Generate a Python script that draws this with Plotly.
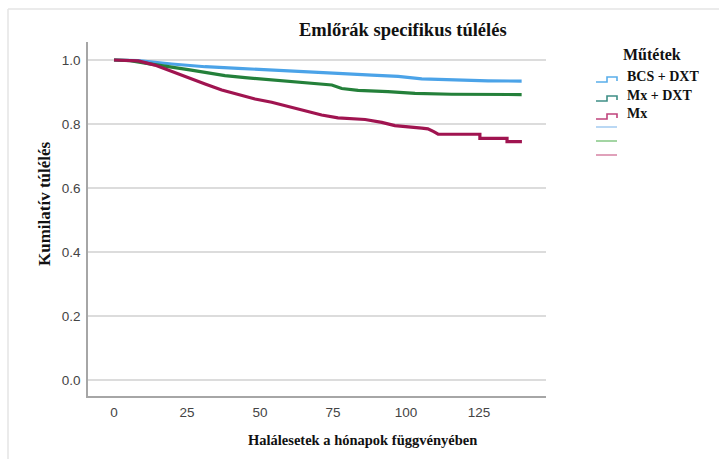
import plotly.graph_objects as go

# Kaplan-Meier style cumulative survival by surgery type (months, survival)
bcs_dxt_months = [0, 8.3, 19.8, 31.2, 42.5, 54.0, 65.4, 76.7, 88.3, 97.3, 105.4, 116.8, 128.1, 139.6]
bcs_dxt_surv = [1.0, 0.998, 0.9875, 0.979, 0.974, 0.968, 0.9635, 0.958, 0.953, 0.949, 0.941, 0.9375, 0.935, 0.934]

mx_dxt_months = [0, 5.5, 11.7, 19.8, 25.4, 31.2, 38.0, 44.9, 54.0, 65.4, 74.6, 78.0, 83.6, 93.8, 103.1, 115.6, 139.6]
mx_dxt_surv = [1.0, 0.998, 0.9885, 0.979, 0.970, 0.9615, 0.951, 0.945, 0.9375, 0.930, 0.922, 0.911, 0.905, 0.901, 0.896, 0.893, 0.892]

mx_months = [0, 8.3, 14.0, 19.8, 25.4, 31.2, 36.9, 42.5, 48.3, 54.0, 59.7, 65.4, 71.1, 76.7, 86.0, 91.7,
             96.2, 105.4, 107.5, 109.5, 111.0, 125.3, 125.3, 134.6, 134.6, 139.7]
mx_surv = [1.0, 0.997, 0.984, 0.9635, 0.943, 0.925, 0.906, 0.891, 0.878, 0.868, 0.855, 0.841, 0.828, 0.819, 0.814, 0.805,
           0.795, 0.787, 0.785, 0.776, 0.768, 0.768, 0.755, 0.755, 0.745, 0.745]

group_names = ["BCS + DXT", "Mx + DXT", "Mx"]
group_colors = ["#4ba3e8", "#24803a", "#a01450"]
icon_colors = ["#5aaeea", "#3f8f86", "#c0447c"]
censor_colors = ["#a9cff2", "#8ccb8c", "#d98aa9"]

x_ticks = [0, 25, 50, 75, 100, 125]
y_ticks = [0.0, 0.2, 0.4, 0.6, 0.8, 1.0]

W, H = 719, 459
L, R, T, B = 88, 546, 42, 396


def px(x):
    return (x - L) / (R - L)


def py(y):
    return 1 - (y - T) / (B - T)


fig = go.Figure()
for xs, ys, name, col in zip([bcs_dxt_months, mx_dxt_months, mx_months],
                             [bcs_dxt_surv, mx_dxt_surv, mx_surv], group_names, group_colors):
    fig.add_trace(go.Scatter(x=xs, y=ys, mode="lines", name=name,
                             line=dict(color=col, width=3.2), showlegend=False))

serif = "Liberation Serif"
shapes = []
annotations = []

# outer frame (top and left edges)
shapes.append(dict(type="line", xref="paper", yref="paper", x0=px(8), x1=px(730), y0=py(9), y1=py(9),
                   line=dict(color="#e4e4e4", width=1.5)))
shapes.append(dict(type="line", xref="paper", yref="paper", x0=px(8), x1=px(8), y0=py(9), y1=py(470),
                   line=dict(color="#e4e4e4", width=1.5)))

# legend
annotations.append(dict(text="<b>Műtétek</b>", xref="paper", yref="paper", x=px(652), y=py(54),
                        showarrow=False, font=dict(family=serif, size=16, color="#111"),
                        xanchor="center", yanchor="middle"))
legend_rows = [76, 95, 113]
for name, col, yrow in zip(group_names, icon_colors, legend_rows):
    ylo, yhi = yrow + 6, yrow + 1
    path = f"M {px(596)} {py(ylo)} L {px(607)} {py(ylo)} L {px(607)} {py(yhi)} L {px(617)} {py(yhi)} L {px(617)} {py(ylo - 1)}"
    shapes.append(dict(type="path", xref="paper", yref="paper", path=path,
                       line=dict(color=col, width=1.6)))
    annotations.append(dict(text=f"<b>{name}</b>", xref="paper", yref="paper", x=px(625), y=py(yrow),
                            showarrow=False, font=dict(family=serif, size=14, color="#111"),
                            xanchor="left", yanchor="middle"))
for col, yrow in zip(censor_colors, [127, 141, 155]):
    shapes.append(dict(type="line", xref="paper", yref="paper", x0=px(596), x1=px(617),
                       y0=py(yrow), y1=py(yrow), line=dict(color=col, width=1.6)))

# titles
annotations.append(dict(text="<b>Emlőrák specifikus túlélés</b>", xref="paper", yref="paper",
                        x=px(403), y=py(30), showarrow=False,
                        font=dict(family=serif, size=18.5, color="#111"), xanchor="center", yanchor="middle"))
annotations.append(dict(text="<b>Halálesetek a hónapok függvényében</b>", xref="paper", yref="paper",
                        x=px(362), y=py(440), showarrow=False,
                        font=dict(family=serif, size=14.5, color="#111"), xanchor="center", yanchor="middle"))
annotations.append(dict(text="<b>Kumilatív túlélés</b>", xref="paper", yref="paper",
                        x=px(44), y=py(204), showarrow=False, textangle=-90,
                        font=dict(family=serif, size=17, color="#111"), xanchor="center", yanchor="middle"))

x0_pix, x125_pix = 114, 479
ppu = (x125_pix - x0_pix) / 125
xr = [(L - x0_pix) / ppu, (R - x0_pix) / ppu]
y0_pix, y1_pix = 380, 60
ppy = (y0_pix - y1_pix)
yr = [-(B - y0_pix) / ppy, 1 + (y1_pix - T) / ppy]

fig.update_layout(
    width=W, height=H,
    margin=dict(l=L, r=W - R, t=T, b=H - B, pad=0),
    paper_bgcolor="white", plot_bgcolor="white",
    shapes=shapes, annotations=annotations,
    xaxis=dict(range=xr, tickvals=x_ticks, ticktext=[str(v) for v in x_ticks], showgrid=False, zeroline=False,
               showline=True, linecolor="#a6a6a6", linewidth=1.5, ticks="", ticklabelstandoff=3,
               tickfont=dict(family="Liberation Sans", size=13.5, color="#444")),
    yaxis=dict(range=yr, tickvals=y_ticks, ticktext=[f"{v:.1f}" for v in y_ticks], showgrid=True,
               gridcolor="#dcdcdc", gridwidth=1.5, zeroline=False,
               showline=True, linecolor="#a6a6a6", linewidth=1.5, ticks="", ticklabelstandoff=3,
               tickfont=dict(family="Liberation Sans", size=13.5, color="#444")),
)

fig.write_html("out.html")
